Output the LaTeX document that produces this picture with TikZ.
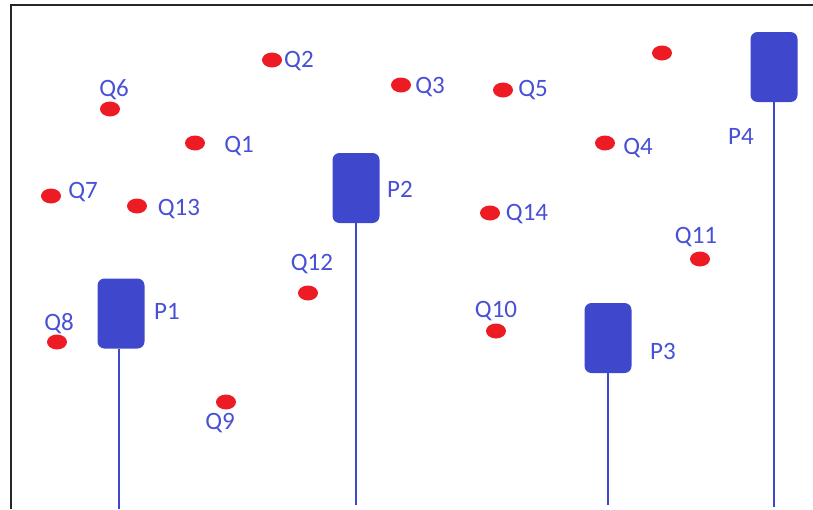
\documentclass[tikz,border=0pt]{standalone}
\usepackage{fontspec}
\setmainfont{Carlito}
\usetikzlibrary{shapes.geometric}
\definecolor{pblue}{RGB}{63,72,204}
\definecolor{ptext}{RGB}{72,80,214}
\definecolor{pred}{RGB}{237,28,36}
\tikzset{
  pt/.style={ellipse, fill=pred, draw=none, inner sep=0pt, minimum width=20pt, minimum height=15pt},
  lbl/.style={text=ptext, font=\fontsize{25}{28}\selectfont, inner sep=0pt},
  pole/.style={rounded corners=7pt, fill=pblue, draw=none, inner sep=0pt, minimum width=47pt, minimum height=70pt},
  stem/.style={draw=pblue, line width=1.4pt},
  frame/.style={draw=black!85, line width=1.6pt}
}
\begin{document}
\begin{tikzpicture}[x=1pt,y=-1pt]
\useasboundingbox (0,0) rectangle (813,509);
% border along the top and left edges
\draw[frame] (813,5) -- (11,5) -- (11,509);

% points
\node[pt] (q1) at (195,143) {};  \node[lbl] (l1) at (239,146) {Q1};
\node[pt] (q2) at (272,60) {};   \node[lbl, anchor=west] (l2) at (284,61) {Q2};
\node[pt] (q3) at (401,85) {};   \node[lbl] (l3) at (430,87) {Q3};
\node[pt] (q4) at (605,143) {};  \node[lbl] (l4) at (638,148) {Q4};
\node[pt] (q5) at (503,90) {};   \node[lbl] (l5) at (533,90) {Q5};
\node[pt] (q6) at (110,109) {};  \node[lbl] (l6) at (114,90) {Q6};
\node[pt] (q7) at (51,196) {};   \node[lbl] (l7) at (83,192) {Q7};
\node[pt] (q8) at (57,342) {};   \node[lbl] (l8) at (59,324) {Q8};
\node[pt] (q9) at (226,402) {};  \node[lbl] (l9) at (220,423) {Q9};
\node[pt] (q10) at (496,331) {}; \node[lbl] (l10) at (496,311) {Q10};
\node[pt] (q11) at (700,259) {}; \node[lbl] (l11) at (696,237) {Q11};
\node[pt] (q12) at (308,293) {}; \node[lbl] (l12) at (312,264) {Q12};
\node[pt] (q13) at (137,206) {}; \node[lbl] (l13) at (179,209) {Q13};
\node[pt] (q14) at (490,213) {}; \node[lbl] (l14) at (527,214) {Q14};
\node[pt] (q15) at (662,53) {};

% poles with their stems
\node[pole] (p1) at (121,313.5) {};  \node[lbl] (m1) at (167,311) {P1};
\node[pole] (p2) at (356,188) {};    \node[lbl] (m2) at (400,189) {P2};
\node[pole] (p3) at (608,338) {};    \node[lbl] (m3) at (663,351) {P3};
\node[pole] (p4) at (774,67) {};     \node[lbl] (m4) at (741,136) {P4};

\coordinate (t1) at ([xshift=-2pt]p1.south);
\coordinate (b1) at (t1 |- 0,509);
\coordinate (b2) at (p2.south |- 0,505);
\coordinate (b3) at (p3.south |- 0,505);
\coordinate (b4) at (p4.south |- 0,507);
\draw[stem] (t1) -- (b1);
\draw[stem] (p2.south) -- (b2);
\draw[stem] (p3.south) -- (b3);
\draw[stem] (p4.south) -- (b4);
\end{tikzpicture}
\end{document}
